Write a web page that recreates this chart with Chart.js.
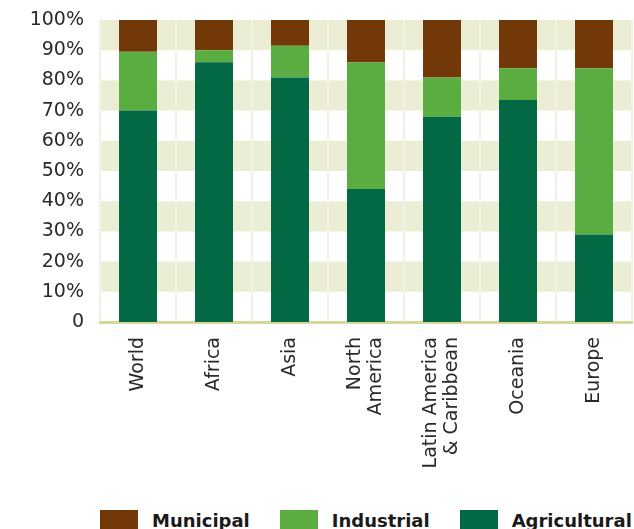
<!DOCTYPE html>
<html>
<head>
<meta charset="utf-8">
<script src="https://cdn.jsdelivr.net/npm/chart.js@4/dist/chart.umd.min.js"></script>
<style>
  html, body { margin: 0; padding: 0; background: #fff; overflow: hidden; }
  #wrap { position: relative; width: 634px; height: 529px; }
  #legend {
    position: absolute; left: 100px; top: 510px;
    display: flex; align-items: flex-start;
    font: bold 18px "DejaVu Sans", sans-serif; color: #1a1a1a; line-height: 22px;
  }
  #legend .item { display: flex; align-items: flex-start; margin-right: 30px; }
  #legend .item:last-child { margin-right: 0; }
  #legend .box { width: 38px; height: 22px; margin-right: 14px; }
</style>
</head>
<body>
<div id="wrap">
  <canvas id="chart" width="634" height="500"></canvas>
  <div id="legend"></div>
</div>
<script>
const regions      = ['World', 'Africa', 'Asia', ['North', 'America'], ['Latin America', '& Caribbean'], 'Oceania', 'Europe'];
const agricultural = [70, 86, 81, 44, 68, 73.5, 29];
const industrial   = [19.5, 4, 10.5, 42, 13, 10.5, 55];
const municipal    = [10.5, 10, 8.5, 14, 19, 16, 16];

const COLORS = {
  Municipal:    '#733808',
  Industrial:   '#5bad42',
  Agricultural: '#026944',
};

// alternating beige bands behind the bars (10-20, 30-40, ... 90-100)
const bandPlugin = {
  id: 'bands',
  beforeDraw(chart) {
    const { ctx, chartArea, scales: { y } } = chart;
    ctx.save();
    ctx.fillStyle = '#ebedd5';
    for (let v = 10; v < 100; v += 20) {
      const top    = y.getPixelForValue(v + 10);
      const bottom = y.getPixelForValue(v);
      ctx.fillRect(chartArea.left, top, chartArea.right - chartArea.left, bottom - top);
    }
    ctx.restore();
  },
};

// rotated category labels, multi-line ones centred on the bar
const xLabelPlugin = {
  id: 'xLabels',
  afterDraw(chart) {
    const { ctx, scales: { x } } = chart;
    const lineH = 21;
    ctx.save();
    ctx.font         = '19px "DejaVu Sans"';
    ctx.fillStyle    = '#2a2a2a';
    ctx.textAlign    = 'right';
    ctx.textBaseline = 'middle';
    regions.forEach((label, i) => {
      const lines = Array.isArray(label) ? label : [label];
      const px    = x.getPixelForValue(i);
      lines.forEach((line, j) => {
        const off = (j - (lines.length - 1) / 2) * lineH;
        ctx.save();
        ctx.translate(px + off, x.top + 15);
        ctx.rotate(-Math.PI / 2);
        ctx.fillText(line, 0, 0);
        ctx.restore();
      });
    });
    ctx.restore();
  },
};

const ds = (label, data) => ({
  label,
  data,
  backgroundColor:    COLORS[label],
  borderWidth:        0,
  barPercentage:      0.5,
  categoryPercentage: 1,
});

new Chart(document.getElementById('chart'), {
  type: 'bar',
  data: {
    labels: regions,
    datasets: [
      ds('Agricultural', agricultural),
      ds('Industrial',   industrial),
      ds('Municipal',    municipal),
    ],
  },
  options: {
    responsive: false,
    animation:  false,
    layout: { padding: { top: 20, right: 2, left: 0, bottom: 0 } },
    plugins: {
      legend:  { display: false },
      tooltip: { enabled: false },
    },
    scales: {
      x: {
        stacked: true,
        offset:  true,
        afterFit(scale) { scale.height = 178; },
        ticks:  { display: false },
        grid:   { color: '#f2f3e4', lineWidth: 2, drawTicks: false, offset: true },
        border: { color: '#d5d99c', width: 3 },
      },
      y: {
        stacked: true,
        min: 0,
        max: 100,
        afterFit(scale) {
          scale.width = 100;
          scale.paddingTop = 0;
          scale.paddingBottom = 0;
        },
        ticks: {
          stepSize: 10,
          padding:  16,
          color:    '#2a2a2a',
          font:     { family: '"DejaVu Sans"', size: 19 },
          callback: (v) => (v === 0 ? '0' : v + '%'),
        },
        grid:   { display: false, drawTicks: false },
        border: { display: false },
      },
    },
  },
  plugins: [bandPlugin, xLabelPlugin],
});

// legend as html, order as in the picture
const legend = document.getElementById('legend');
['Municipal', 'Industrial', 'Agricultural'].forEach((name) => {
  const item = document.createElement('div');
  item.className = 'item';
  const box = document.createElement('div');
  box.className = 'box';
  box.style.background = COLORS[name];
  const text = document.createElement('span');
  text.textContent = name;
  item.append(box, text);
  legend.appendChild(item);
});
</script>
</body>
</html>
